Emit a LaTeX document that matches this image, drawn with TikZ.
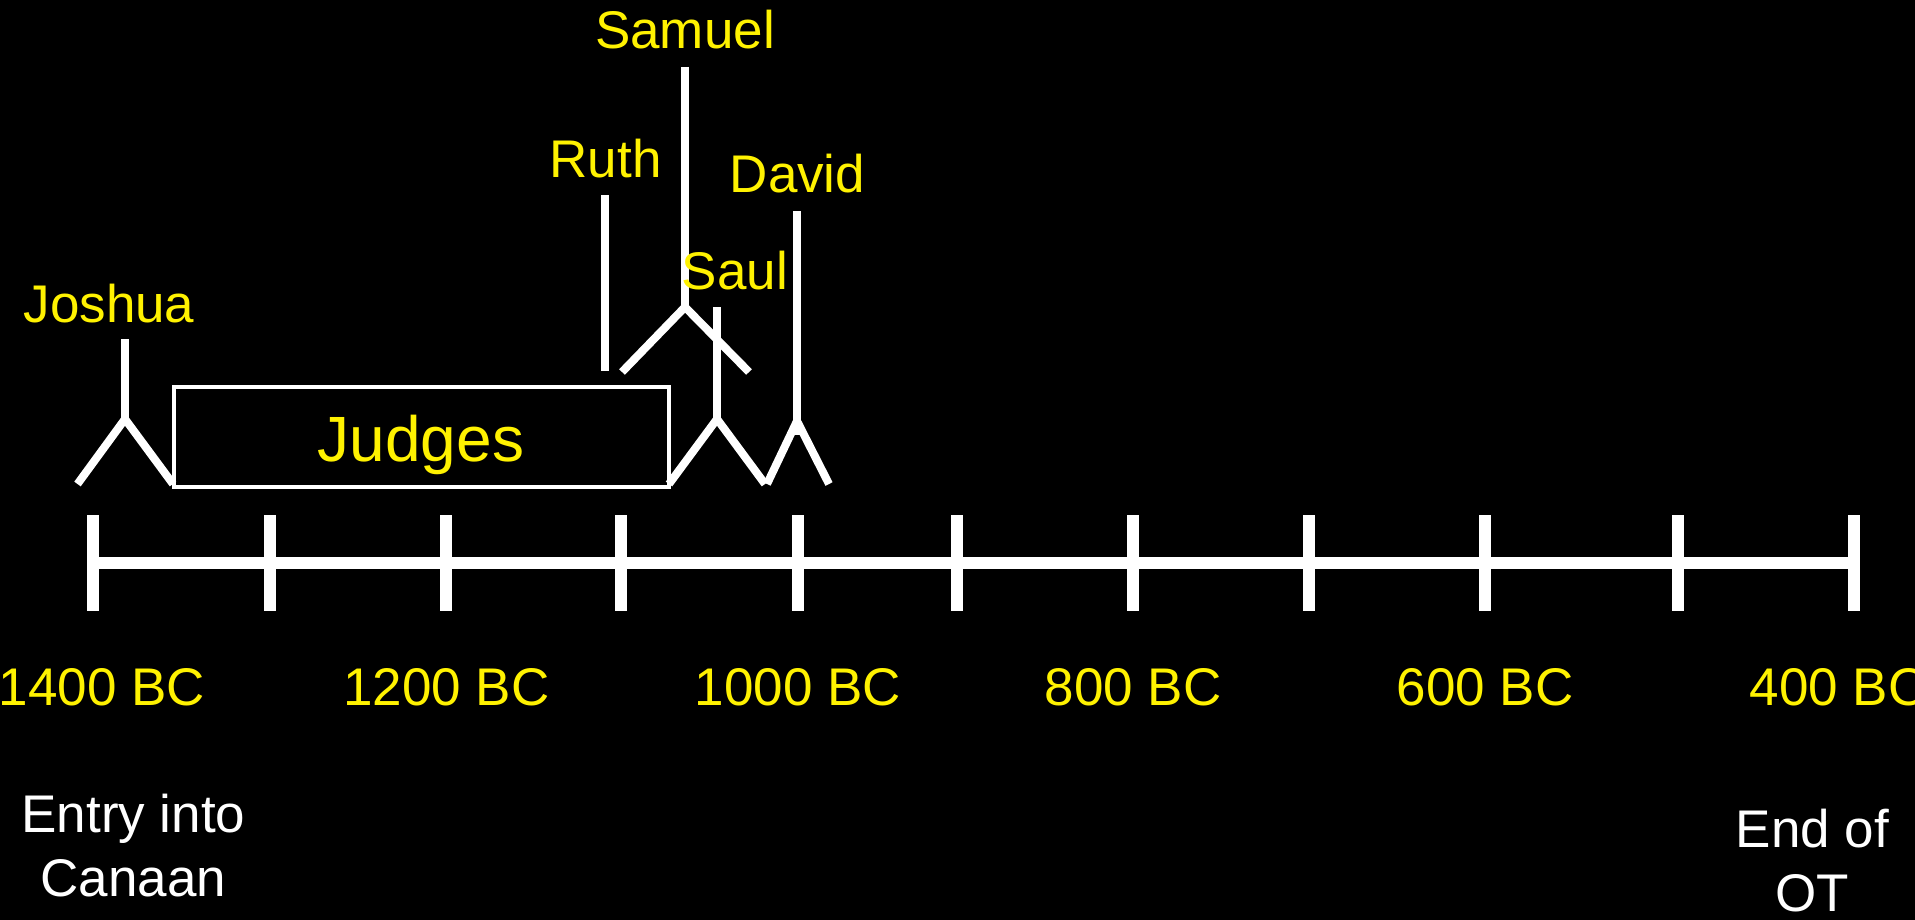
\documentclass[tikz,border=0pt]{standalone}
\usepackage{fontspec}
\setmainfont{Liberation Sans}
\tikzset{
 x=0.5pt,y=-0.5pt,
 yl/.style={text=yellow,font=\fontsize{26.5}{30}\selectfont,inner sep=0pt,anchor=base},
 wl/.style={text=white,font=\fontsize{26.5}{32}\selectfont,inner sep=0pt,align=center},
 axis/.style={draw=white,line width=6pt},
 tick/.style={draw=white,line width=6pt},
 fig/.style={draw=white,line width=4pt,miter limit=10},
}
\begin{document}
\begin{tikzpicture}
\useasboundingbox[fill=black] (0,0) rectangle (1915,920);
\coordinate (axl) at (93,563);
\coordinate (axr) at (1853.7,563);
\draw[axis] (axl) -- (axr);
\foreach \x/\n in {93/a,269.5/b,445.5/c,621/d,797.5/e,957/f,1133/g,1309/h,1485/i,1677.5/j,1853.7/k}{
 \coordinate (t\n u) at (\x,515);
 \coordinate (t\n d) at (\x,611);
 \draw[tick] (t\n u) -- (t\n d);
}
\node[draw=white,line width=2pt,minimum width=247.8pt,minimum height=50pt,inner sep=0pt] (judgesbox) at (421.5,437) {};
\foreach \n/\x/\top/\jy/\l/\r/\b in {
 J/125/339/419/77.5/173/484,
 Sa/717/307/419/669/765/484,
 D/797/211/421/767/829/484}{
 \coordinate (\n t) at (\x,\top);
 \coordinate (\n j) at (\x,\jy);
 \coordinate (\n l) at (\l,\b);
 \coordinate (\n r) at (\r,\b);
 \draw[fig] (\n t) -- (\n j);
 \draw[fig] (\n l) -- (\n j) -- (\n r);
}
\coordinate (Db) at (797,435);
\draw[fig] (Dj) -- (Db);
\coordinate (St) at (685,67);
\coordinate (Sj) at (685,307);
\coordinate (Sl) at (622,372);
\coordinate (Sr) at (749,372);
\draw[fig] (St) -- (Sj);
\draw[fig] (Sl) -- (Sj) -- (Sr);
\coordinate (Rt) at (605,195);
\coordinate (Rb) at (605,371);
\draw[fig] (Rt) -- (Rb);
\foreach \x/\c/\t in {102/a/1400 BC,446.5/b/1200 BC,798/c/1000 BC,1133/d/800 BC,1485/e/600 BC,1838/f/400 BC}
 \node[yl] (y\c) at (\x,705.5) {\t};
\node[yl] (joshua) at (109,322) {Joshua};
\node[yl] (ruth) at (605.5,177) {Ruth};
\node[yl] (samuel) at (685,49) {Samuel};
\node[yl] (saul) at (735,289) {Saul};
\node[yl] (david) at (797.5,192) {David};
\node[yl,font=\fontsize{32}{36}\selectfont] (judges) at (421,461) {Judges};
\node[wl] (entry) at (133.5,845.7) {Entry into\\Canaan};
\node[wl] (end) at (1812.5,861) {End of\\OT};
\end{tikzpicture}
\end{document}
